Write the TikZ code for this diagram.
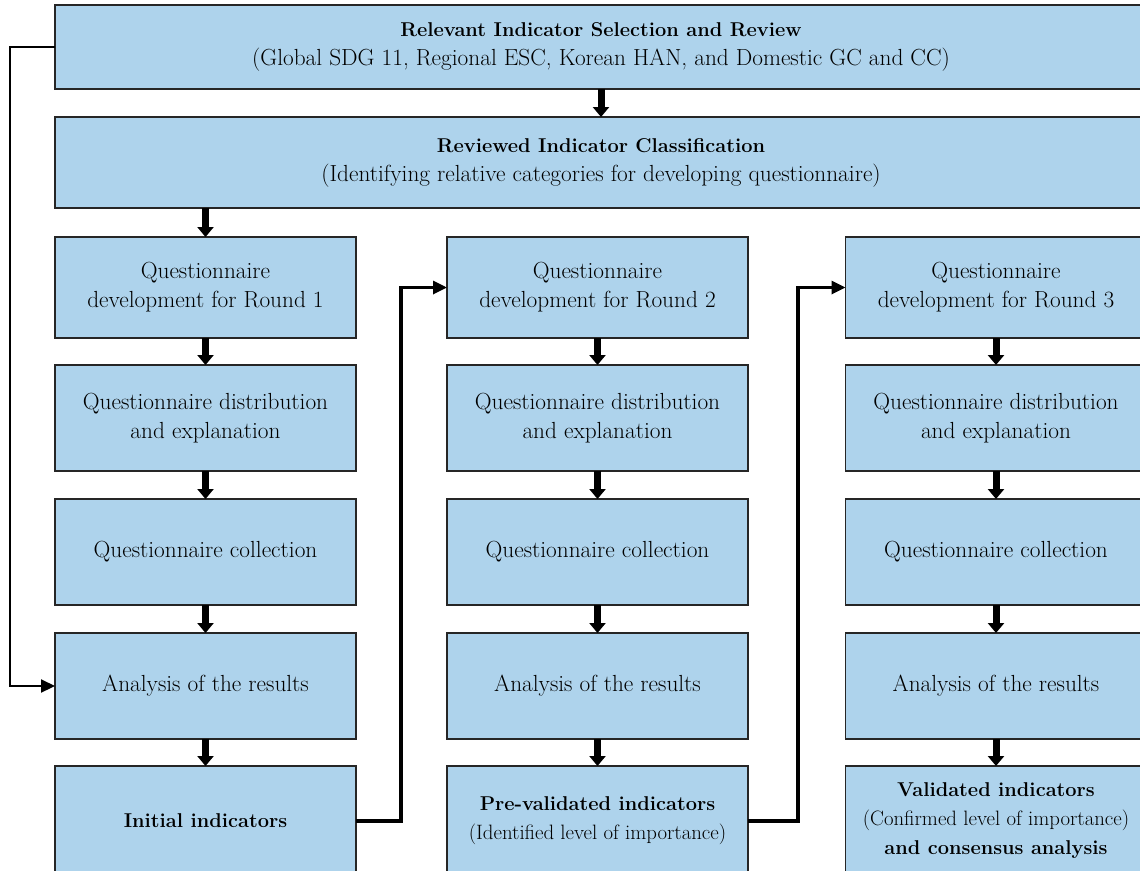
\documentclass[tikz,border=0pt]{standalone}
\usetikzlibrary{arrows.meta}

\definecolor{boxblue}{RGB}{174,211,236}

\tikzset{
  stepbox/.style={draw=black!85, fill=boxblue, line width=1.6pt, align=center,
    inner sep=0pt, outer sep=0pt, minimum width=301pt, minimum height=106pt,
    font=\fontsize{23.3}{29}\selectfont},
  down/.style={line width=7pt, -{Triangle[length=10pt,width=16pt]}},
  loopline/.style={line width=2.2pt, -{Triangle[length=14pt,width=13pt]}},
  nextround/.style={line width=3.2pt, -{Triangle[length=14pt,width=13pt]}},
}
\newcommand{\boldtxt}[1]{{\fontsize{20}{29}\selectfont\bfseries #1}}
\newcommand{\smalltxt}[1]{{\fontsize{20.8}{28}\selectfont #1}}

\begin{document}
\begin{tikzpicture}[x=1pt, y=-1pt]
  \useasboundingbox (0,0) rectangle (1140,870);
  \clip (0,0) rectangle (1140,870);

  % overall review and classification
  \node[stepbox, minimum width=1092pt, minimum height=84pt] (select) at (601,47)
    {\boldtxt{Relevant Indicator Selection and Review}\\(Global SDG 11, Regional ESC, Korean HAN, and Domestic GC and CC)};
  \node[stepbox, minimum width=1092pt, minimum height=91pt] (classify) at (601,162.5)
    {\boldtxt{Reviewed Indicator Classification}\\(Identifying relative categories for developing questionnaire)};

  % three Delphi rounds
  \foreach \r/\x in {1/205.5, 2/597.5, 3/996} {
    \node[stepbox, minimum height=101pt] (dev\r) at (\x,287.5) {Questionnaire\\development for Round \r};
    \node[stepbox] (dist\r) at (\x,418) {Questionnaire distribution\\and explanation};
    \node[stepbox] (coll\r) at (\x,552) {Questionnaire collection};
    \node[stepbox] (ana\r) at (\x,686) {Analysis of the results};
  }
  \node[stepbox, minimum height=110pt] (ind1) at (205.5,821) {\boldtxt{Initial indicators}};
  \node[stepbox, minimum height=110pt] (ind2) at (597.5,821)
    {\boldtxt{Pre-validated indicators}\\\smalltxt{(Identified level of importance)}};
  \node[stepbox, minimum height=110pt] (ind3) at (996,821)
    {\boldtxt{Validated indicators}\\\smalltxt{(Confirmed level of importance)}\\\boldtxt{and consensus analysis}};

  \draw[down] (select.south) -- (classify.south |- select.south) -- (classify.north);
  \draw[down] (classify.south -| dev1.north) -- (dev1.north);
  \foreach \r in {1,2,3} {
    \draw[down] (dev\r) -- (dist\r);
    \draw[down] (dist\r) -- (coll\r);
    \draw[down] (coll\r) -- (ana\r);
    \draw[down] (ana\r) -- (ind\r);
  }

  % feedback paths
  \draw[loopline] (select.west) -- ++(-45,0) |- (ana1.west);
  \draw[nextround] (ind1.east) -- ++(45,0) |- (dev2.west);
  \draw[nextround] (ind2.east) -- ++(50,0) |- (dev3.west);
\end{tikzpicture}
\end{document}
